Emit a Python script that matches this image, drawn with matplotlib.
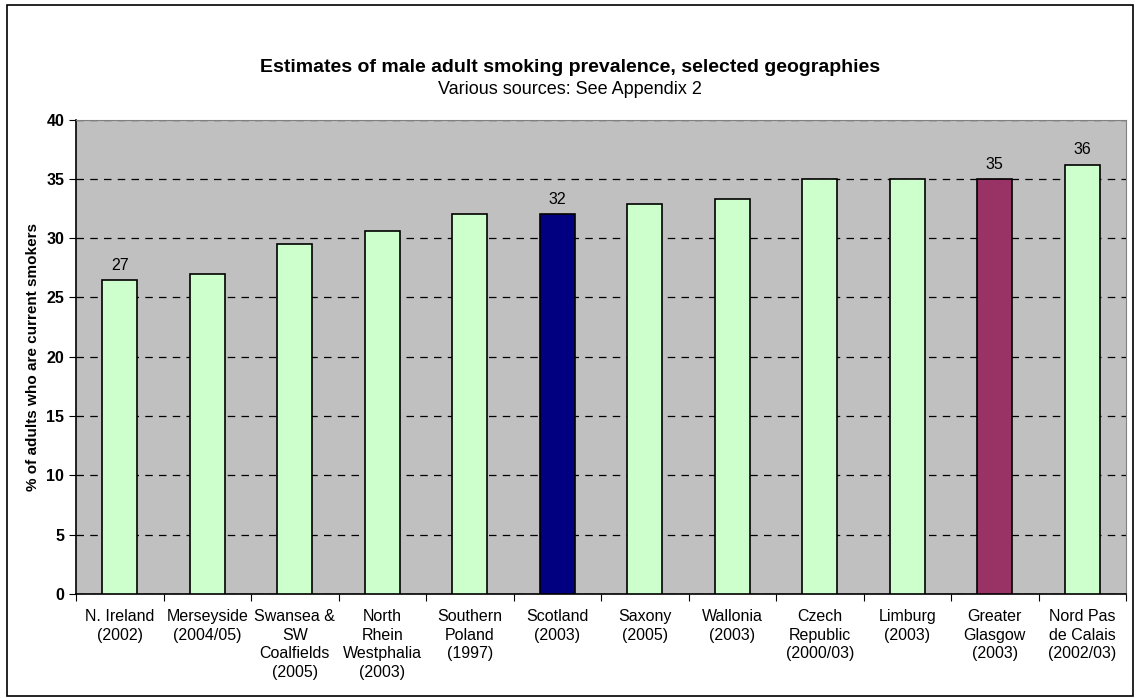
import matplotlib.pyplot as plt
from matplotlib.patches import Rectangle

categories = ['N. Ireland\n(2002)', 'Merseyside\n(2004/05)', 'Swansea &\nSW\nCoalfields\n(2005)',
              'North\nRhein\nWestphalia\n(2003)', 'Southern\nPoland\n(1997)', 'Scotland\n(2003)',
              'Saxony\n(2005)', 'Wallonia\n(2003)', 'Czech\nRepublic\n(2000/03)', 'Limburg\n(2003)',
              'Greater\nGlasgow\n(2003)', 'Nord Pas\nde Calais\n(2002/03)']
values = [26.5, 27.0, 29.5, 30.6, 32.0, 32.0, 32.9, 33.3, 35.0, 35.0, 35.0, 36.2]
labelled = {0: '27', 5: '32', 10: '35', 11: '36'}

colors = ['#CCFFCC'] * len(values)
colors[5] = '#000080'   # Scotland
colors[10] = '#993366'  # Greater Glasgow

plt.rcParams['font.family'] = ['Liberation Sans', 'DejaVu Sans']

fig = plt.figure(figsize=(11.4, 6.98), dpi=100)
ax = fig.add_axes([76 / 1140, 1 - 594 / 698, (1126 - 76) / 1140, (594 - 119.5) / 698])

x = range(len(values))
ax.bar(x, values, width=0.4, color=colors, edgecolor='black', linewidth=1.2, zorder=3)

for i, txt in labelled.items():
    ax.text(i, values[i] + 0.6, txt, ha='center', va='bottom', fontsize=11.5)

ax.set_facecolor('#C0C0C0')
ax.set_xlim(-0.5, len(values) - 0.5)
ax.set_ylim(0, 40)
ax.set_yticks(range(0, 41, 5))
ax.yaxis.grid(True, color='black', linestyle=(0, (6, 5)), linewidth=0.9, zorder=1)
ax.set_axisbelow(True)

ax.set_xticks([i - 0.5 for i in range(len(values) + 1)], minor=False)
ax.set_xticklabels([])
ax.set_xticks(list(x), minor=True)
ax.set_xticklabels(categories, minor=True, fontsize=11.5, linespacing=1.3)
ax.tick_params(axis='x', which='minor', length=0, pad=11)
ax.tick_params(axis='x', which='major', length=5, direction='out')
ax.tick_params(axis='y', length=5, labelsize=11.5)
for lbl in ax.get_yticklabels():
    lbl.set_fontweight('bold')

for side in ['top', 'right']:
    ax.spines[side].set_color('#808080')
ax.spines['left'].set_linewidth(1.2)
ax.spines['bottom'].set_linewidth(1.2)

ax.set_ylabel('% of adults who are current smokers', fontsize=11, fontweight='bold')
ax.yaxis.set_label_coords(-0.034, 0.5)

fig.text(0.5, 1 - 68 / 698, 'Estimates of male adult smoking prevalence, selected geographies',
         ha='center', va='center', fontsize=14, fontweight='bold')
fig.text(0.5, 1 - 89 / 698, 'Various sources: See Appendix 2', ha='center', va='center', fontsize=13)

fig.patches.append(Rectangle((7 / 1140, 2 / 698), 1126 / 1140, 691 / 698, transform=fig.transFigure,
                             fill=False, edgecolor='black', linewidth=1.2))

fig.savefig('out.png', dpi=100)
